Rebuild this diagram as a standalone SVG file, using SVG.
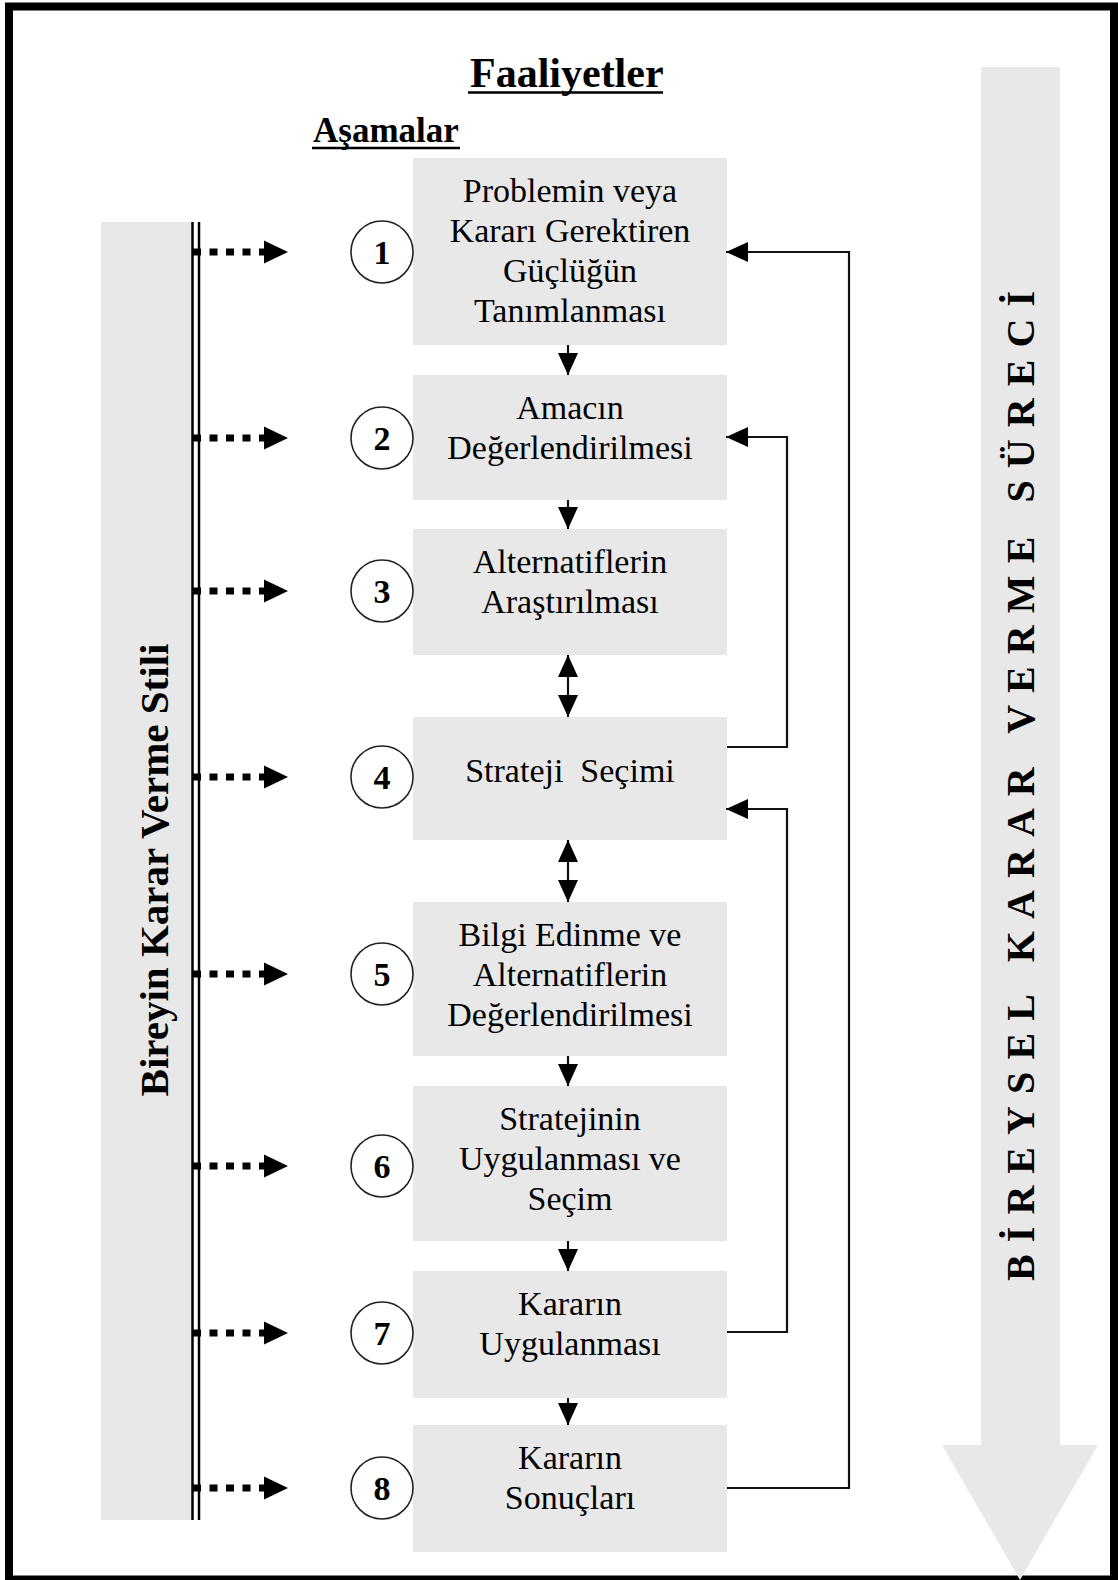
<svg xmlns="http://www.w3.org/2000/svg" width="1118" height="1580" viewBox="0 0 1118 1580">
<style>
.box{fill:#e8e8e8}
.t{font-family:"Liberation Serif","Times New Roman",serif;font-size:34px;fill:#000;text-anchor:middle}
.num{font-family:"Liberation Serif","Times New Roman",serif;font-size:34px;font-weight:bold;fill:#000;text-anchor:middle}
.circ{fill:#fff;stroke:#222;stroke-width:1.6}
.dot{stroke:#000;stroke-width:7;stroke-dasharray:8 8.5;fill:none}
.dhead{fill:#000}
.ln{stroke:#111;stroke-width:2.2;fill:none}
.hd{font-family:"Liberation Serif","Times New Roman",serif;font-weight:bold;fill:#000}
</style>
<defs>
<marker id="ah" viewBox="0 0 22 20" refX="22" refY="10" markerWidth="22" markerHeight="20" markerUnits="userSpaceOnUse" orient="auto-start-reverse">
<path d="M0,0 L22,10 L0,20 Z" fill="#000"/>
</marker>
</defs>
<rect x="0" y="0" width="1118" height="1580" fill="#fff"/>
<rect x="9" y="6.5" width="1105" height="1573" fill="none" stroke="#000" stroke-width="8"/>

<g id="process-arrow">
<polygon points="981,67 1060,67 1060,1445 1098,1445 1020,1580 942,1445 981,1445" fill="#e8e8e8"/>
<text class="hd" font-size="40" transform="translate(1034,786) rotate(-90)" text-anchor="middle" textLength="990" lengthAdjust="spacing">BİREYSEL KARAR VERME SÜRECİ</text>
</g>

<g id="style-bar">
<rect x="101" y="222" width="91" height="1298" fill="#e8e8e8"/>
<line x1="192.5" y1="222" x2="192.5" y2="1520" stroke="#000" stroke-width="2.5"/>
<line x1="199" y1="222" x2="199" y2="1520" stroke="#000" stroke-width="2.5"/>
<text class="hd" font-size="41" transform="translate(168,870) rotate(-90)" text-anchor="middle">Bireyin Karar Verme Stili</text>
</g>

<g id="headers">
<text class="hd" font-size="42" x="470" y="87">Faaliyetler</text>
<line x1="468" y1="92.5" x2="663" y2="92.5" stroke="#000" stroke-width="2.5"/>
<text class="hd" font-size="35" x="313" y="142">Aşamalar</text>
<line x1="312" y1="148" x2="460" y2="148" stroke="#000" stroke-width="2.5"/>
</g>

<g id="node1">
<rect class="box" x="413" y="158" width="314" height="187"/>
<text class="t" x="570" y="202">Problemin veya</text>
<text class="t" x="570" y="242">Kararı Gerektiren</text>
<text class="t" x="570" y="282">Güçlüğün</text>
<text class="t" x="570" y="322">Tanımlanması</text>
<circle class="circ" cx="382" cy="252" r="31"/>
<text class="num" x="382" y="264">1</text>
</g>
<g id="node2">
<rect class="box" x="413" y="375" width="314" height="125"/>
<text class="t" x="570" y="419">Amacın</text>
<text class="t" x="570" y="459">Değerlendirilmesi</text>
<circle class="circ" cx="382" cy="438" r="31"/>
<text class="num" x="382" y="450">2</text>
</g>
<g id="node3">
<rect class="box" x="413" y="529" width="314" height="126"/>
<text class="t" x="570" y="573">Alternatiflerin</text>
<text class="t" x="570" y="613">Araştırılması</text>
<circle class="circ" cx="382" cy="591" r="31"/>
<text class="num" x="382" y="603">3</text>
</g>
<g id="node4">
<rect class="box" x="413" y="717" width="314" height="123"/>
<text class="t" x="570" y="782" xml:space="preserve">Strateji  Seçimi</text>
<circle class="circ" cx="382" cy="777" r="31"/>
<text class="num" x="382" y="789">4</text>
</g>
<g id="node5">
<rect class="box" x="413" y="902" width="314" height="154"/>
<text class="t" x="570" y="946">Bilgi Edinme ve</text>
<text class="t" x="570" y="986">Alternatiflerin</text>
<text class="t" x="570" y="1026">Değerlendirilmesi</text>
<circle class="circ" cx="382" cy="974" r="31"/>
<text class="num" x="382" y="986">5</text>
</g>
<g id="node6">
<rect class="box" x="413" y="1086" width="314" height="155"/>
<text class="t" x="570" y="1130">Stratejinin</text>
<text class="t" x="570" y="1170">Uygulanması ve</text>
<text class="t" x="570" y="1210">Seçim</text>
<circle class="circ" cx="382" cy="1166" r="31"/>
<text class="num" x="382" y="1178">6</text>
</g>
<g id="node7">
<rect class="box" x="413" y="1271" width="314" height="127"/>
<text class="t" x="570" y="1315">Kararın</text>
<text class="t" x="570" y="1355">Uygulanması</text>
<circle class="circ" cx="382" cy="1333" r="31"/>
<text class="num" x="382" y="1345">7</text>
</g>
<g id="node8">
<rect class="box" x="413" y="1425" width="314" height="127"/>
<text class="t" x="570" y="1469">Kararın</text>
<text class="t" x="570" y="1509">Sonuçları</text>
<circle class="circ" cx="382" cy="1488" r="31"/>
<text class="num" x="382" y="1500">8</text>
</g>

<g id="connectors">
<line class="dot" x1="193" y1="252" x2="266" y2="252"/><polygon class="dhead" points="264,240.5 288,252 264,263.5"/>
<line class="dot" x1="193" y1="438" x2="266" y2="438"/><polygon class="dhead" points="264,426.5 288,438 264,449.5"/>
<line class="dot" x1="193" y1="591" x2="266" y2="591"/><polygon class="dhead" points="264,579.5 288,591 264,602.5"/>
<line class="dot" x1="193" y1="777" x2="266" y2="777"/><polygon class="dhead" points="264,765.5 288,777 264,788.5"/>
<line class="dot" x1="193" y1="974" x2="266" y2="974"/><polygon class="dhead" points="264,962.5 288,974 264,985.5"/>
<line class="dot" x1="193" y1="1166" x2="266" y2="1166"/><polygon class="dhead" points="264,1154.5 288,1166 264,1177.5"/>
<line class="dot" x1="193" y1="1333" x2="266" y2="1333"/><polygon class="dhead" points="264,1321.5 288,1333 264,1344.5"/>
<line class="dot" x1="193" y1="1488" x2="266" y2="1488"/><polygon class="dhead" points="264,1476.5 288,1488 264,1499.5"/>
<line class="ln" x1="568" y1="345" x2="568" y2="375" marker-end="url(#ah)"/>
<line class="ln" x1="568" y1="500" x2="568" y2="529" marker-end="url(#ah)"/>
<line class="ln" x1="568" y1="655" x2="568" y2="717" marker-start="url(#ah)" marker-end="url(#ah)"/>
<line class="ln" x1="568" y1="840" x2="568" y2="902" marker-start="url(#ah)" marker-end="url(#ah)"/>
<line class="ln" x1="568" y1="1056" x2="568" y2="1086" marker-end="url(#ah)"/>
<line class="ln" x1="568" y1="1241" x2="568" y2="1271" marker-end="url(#ah)"/>
<line class="ln" x1="568" y1="1398" x2="568" y2="1425" marker-end="url(#ah)"/>
<path class="ln" d="M727,1488 H849 V252 H726" marker-end="url(#ah)"/>
<path class="ln" d="M727,747 H787 V437 H726" marker-end="url(#ah)"/>
<path class="ln" d="M727,1332 H787 V809 H726" marker-end="url(#ah)"/>
</g>
</svg>
